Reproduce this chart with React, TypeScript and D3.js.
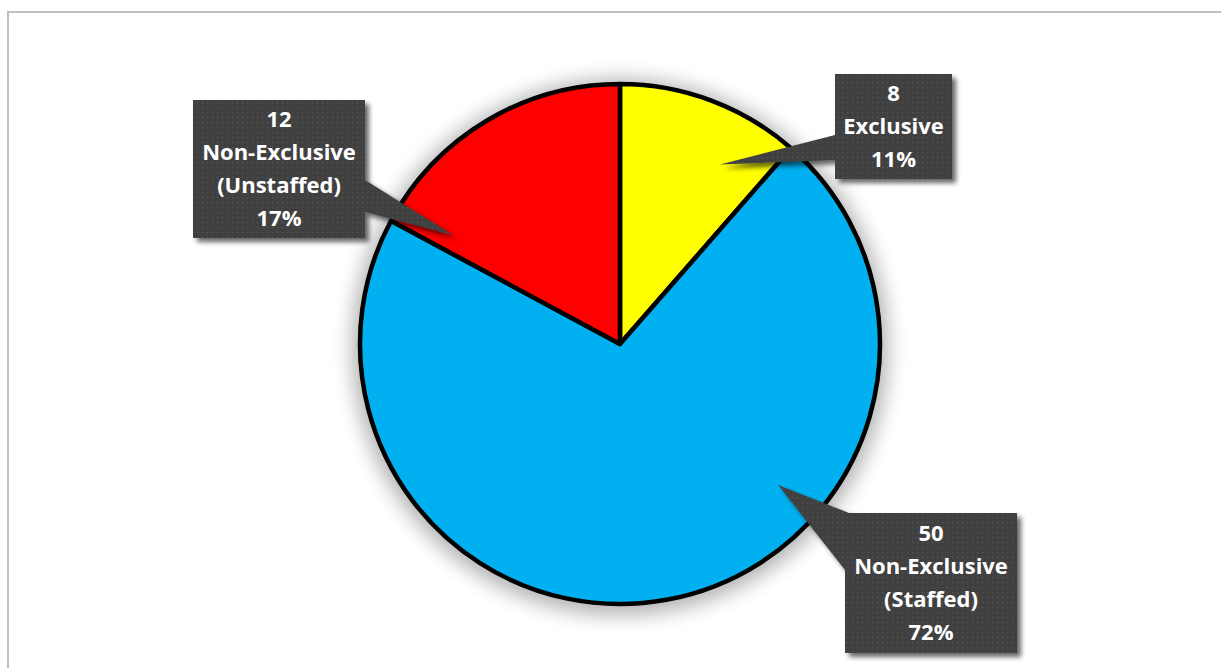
import React from 'react';
import * as d3 from 'd3';

const categories = ['Exclusive', 'Non-Exclusive (Staffed)', 'Non-Exclusive (Unstaffed)'];
const values = [8, 50, 12];
const percentLabels = ['11%', '72%', '17%'];
const labelLines = [['Exclusive'], ['Non-Exclusive', '(Staffed)'], ['Non-Exclusive', '(Unstaffed)']];
const colors = ['#FFFF00', '#00B0F0', '#FF0000'];

const W = 1221;
const H = 668;
const CX = 620;
const CY = 344;
const R = 260;

// callout layout: box rect, pointer tip in polar coords (deg clockwise from top, fraction of radius), base points on box
const callouts = [
  { box: { x: 835, y: 74, w: 117, h: 105 }, tipAngle: 29.1, tipFrac: 0.79, base: [[835, 135], [835, 160]] },
  { box: { x: 845, y: 513, w: 172, h: 140 }, tipAngle: 131.7, tipFrac: 0.815, base: [[849, 513], [845, 570]] },
  { box: { x: 193, y: 100, w: 172, h: 138 }, tipAngle: 303.1, tipFrac: 0.767, base: [[365, 180], [365, 212]] },
];

export default function App() {
  const pie = d3.pie<number>().sort(null).value((d) => d);
  const arcs = pie(values);
  const arc = d3.arc<d3.PieArcDatum<number>>().innerRadius(0).outerRadius(R);
  const rScale = d3.scaleLinear().domain([0, 1]).range([0, R]);
  const lineH = 33;

  return (
    <svg width={W} height={H} style={{ position: 'absolute', left: 0, top: 0 }}>
      <defs>
        <filter id="pieShadow" x="-20%" y="-20%" width="140%" height="140%">
          <feGaussianBlur stdDeviation="10" />
        </filter>
        <filter id="boxShadow" x="-20%" y="-20%" width="140%" height="140%">
          <feGaussianBlur in="SourceAlpha" stdDeviation="2.5" />
          <feOffset dx="4" dy="4" result="ob" />
          <feComponentTransfer>
            <feFuncA type="linear" slope="0.6" />
          </feComponentTransfer>
          <feMerge>
            <feMergeNode />
            <feMergeNode in="SourceGraphic" />
          </feMerge>
        </filter>
        <pattern id="dots" width="5" height="5" patternUnits="userSpaceOnUse">
          <rect width="5" height="5" fill="#404040" />
          <rect x="2" y="2" width="1.2" height="1.2" fill="#575757" />
        </pattern>
      </defs>
      <rect x={0} y={0} width={W} height={H} fill="#ffffff" />
      <rect x={8} y={12} width={1260} height={720} fill="none" stroke="#BFBFBF" strokeWidth={2} />

      <circle cx={CX} cy={CY + 3} r={R + 8} fill="#000" opacity={0.3} filter="url(#pieShadow)" />
      <g transform={`translate(${CX},${CY})`}>
        {arcs.map((a, i) => (
          <path key={categories[i]} d={arc(a) || ''} fill={colors[i]} stroke="#000" strokeWidth={4.5} strokeLinejoin="round" />
        ))}
      </g>

      {callouts.map((c, i) => {
        const ang = (c.tipAngle * Math.PI) / 180;
        const tr = rScale(c.tipFrac);
        const tip: [number, number] = [CX + tr * Math.sin(ang), CY - tr * Math.cos(ang)];
        const pts = [tip, c.base[0], c.base[1]].map((p) => p.join(',')).join(' ');
        const lines = [String(values[i]), ...labelLines[i], percentLabels[i]];
        const tcx = c.box.x + c.box.w / 2;
        const tcy = c.box.y + c.box.h / 2;
        const y0 = tcy - ((lines.length - 1) * lineH) / 2;
        return (
          <g key={'c' + i}>
            <g filter="url(#boxShadow)">
              <rect x={c.box.x} y={c.box.y} width={c.box.w} height={c.box.h} fill="url(#dots)" />
              <polygon points={pts} fill="url(#dots)" />
            </g>
            {lines.map((t, j) => (
              <text
                key={j}
                x={tcx}
                y={y0 + j * lineH}
                dy="0.36em"
                textAnchor="middle"
                fill="#ffffff"
                fontFamily="'Open Sans', sans-serif"
                fontWeight="bold"
                fontSize={22}
              >
                {t}
              </text>
            ))}
          </g>
        );
      })}
    </svg>
  );
}
